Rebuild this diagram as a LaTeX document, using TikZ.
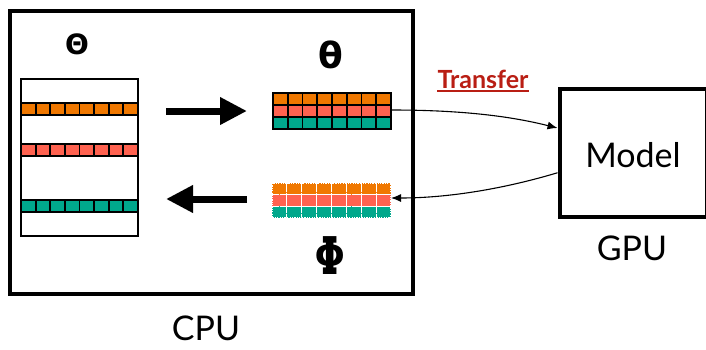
\documentclass[tikz,border=0pt]{standalone}
\usepackage{fontspec}
\setmainfont{Lato}
\newfontfamily\greekfont{DejaVu Sans}
\newfontfamily\greekmono{DejaVu Sans Mono}
\usetikzlibrary{arrows.meta}
\definecolor{corange}{RGB}{240,120,0}
\definecolor{csalmon}{RGB}{255,98,80}
\definecolor{cteal}{RGB}{0,168,140}
\definecolor{cred}{RGB}{185,30,20}
\tikzset{
  frame/.style={draw=black, line width=4pt, inner sep=0pt, outer sep=2pt},
  cell/.style={draw=black, line width=1.8pt},
  dcell/.style={draw=white, line width=1.1pt, dash pattern=on 1.2pt off 1.2pt},
  matbox/.style={inner sep=0pt, outer sep=0pt, minimum width=118pt, minimum height=36pt},
  conn/.style={line width=1.1pt, -{Latex[length=10pt,width=8pt]}},
  bigarrow/.style={line width=7pt, -{Triangle[length=27pt,width=26pt]}},
  lbl/.style={font=\fontsize{34}{38}\selectfont, inner sep=0pt},
}
\begin{document}
\begin{tikzpicture}[x=1pt,y=-1pt]
\useasboundingbox (0,0) rectangle (706,349);
\clip (0,0) rectangle (706,349);
% CPU frame
\node[frame, minimum width=403pt, minimum height=283pt] (cpu) at (211.5,152.5) {};
\node[lbl, anchor=base] (cpulbl) at (206,340) {CPU};
% GPU model box
\node[frame, minimum width=147pt, minimum height=128.5pt] (model) at (633,152.75) {};
\node[lbl, anchor=base] (modellbl) at (633,167) {Model};
\node[lbl, anchor=base] (gpulbl) at (632,260) {GPU};
% Transfer label
\node[inner sep=0pt, anchor=base, text=cred, font=\fontsize{25}{28}\selectfont\bfseries] (transfer) at (483,88) {Transfer};
\draw[cred, line width=1.5pt] (transfer.base west) ++(0,3) -- ([yshift=-3pt]transfer.base east);
% Greek labels
\node[inner sep=0pt, font=\greekfont\bfseries\fontsize{28}{32}\selectfont] (Theta) at (77,44) {Θ};
\node[inner sep=0pt, font=\greekfont\bfseries\fontsize{36}{40}\selectfont] (theta) at (331,55) {θ};
\node[inner sep=0pt, font=\greekmono\bfseries\fontsize{52}{56}\selectfont] (phi) at (330,256) {Φ};
% Left big matrix Theta
\node[draw=black, line width=1.3pt, inner sep=0pt, minimum width=117pt, minimum height=157pt] (bigmat) at (79.5,157.5) {};
\foreach \i in {0,...,7} {
  \draw[cell, fill=corange] (21+\i*14.625,103) rectangle ++(14.625,12);
  \draw[cell, fill=csalmon] (21+\i*14.625,144) rectangle ++(14.625,12);
  \draw[cell, fill=cteal]   (21+\i*14.625,200) rectangle ++(14.625,12);
}
% theta matrix
\node[matbox] (thetamat) at (332,111) {};
\foreach \i in {0,...,7} {
  \draw[cell, fill=corange] (273+\i*14.75,93) rectangle ++(14.75,12);
  \draw[cell, fill=csalmon] (273+\i*14.75,105) rectangle ++(14.75,12);
  \draw[cell, fill=cteal]   (273+\i*14.75,117) rectangle ++(14.75,12);
}
% phi matrix
\node[matbox, minimum width=119pt, minimum height=35pt] (phimat) at (331.5,200.5) {};
\foreach \i in {0,...,7} {
  \fill[corange] (272+\i*14.875,183) rectangle ++(14.875,11.67);
  \fill[csalmon] (272+\i*14.875,194.67) rectangle ++(14.875,11.67);
  \fill[cteal]   (272+\i*14.875,206.33) rectangle ++(14.875,11.67);
}
\foreach \i in {0,...,7} {
  \draw[dcell] (272+\i*14.875,183) rectangle ++(14.875,11.67);
  \draw[dcell] (272+\i*14.875,194.67) rectangle ++(14.875,11.67);
  \draw[dcell] (272+\i*14.875,206.33) rectangle ++(14.875,11.67);
}
% big arrows
\coordinate (ra1) at (166,111);
\coordinate (ra2) at (247,111);
\coordinate (la1) at (247,199);
\coordinate (la2) at (166,199);
\draw[bigarrow] (ra1) -- (ra2);
\draw[bigarrow] (la1) -- (la2);
% transfer connectors
\draw[conn] ([yshift=1pt]thetamat.east) .. controls +(80,0) and +(-40,-10) .. ([yshift=24.75pt]model.west);
\draw[conn] ([yshift=-20pt]model.west) .. controls +(-50,15) and +(60,0) .. ([yshift=2.5pt]phimat.east);
\end{tikzpicture}
\end{document}
